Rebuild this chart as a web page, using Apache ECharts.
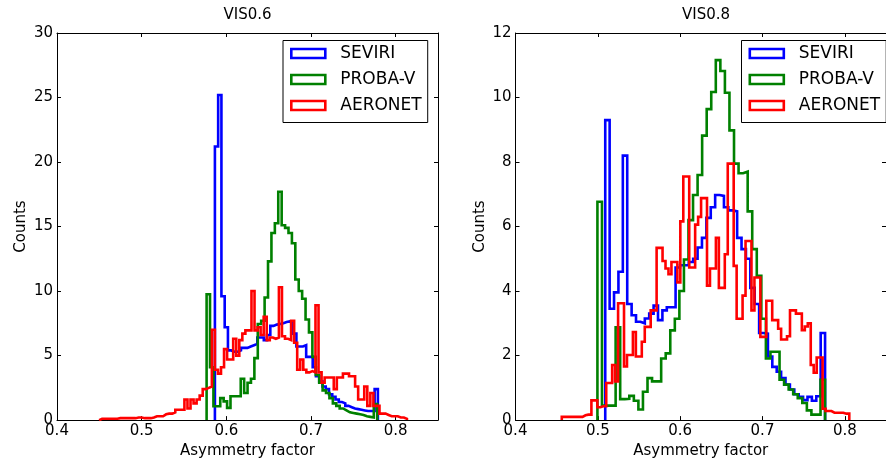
<!DOCTYPE html>
<html><head><meta charset="utf-8">
<script src="https://cdn.jsdelivr.net/npm/echarts@6/dist/echarts.min.js"></script>
<style>html,body{margin:0;padding:0;background:#fff}#c{width:886px;height:464px}</style>
</head><body><div id="c"></div>
<script>
// ---- data (histogram counts) ----
const seriesNames = ['SEVIRI', 'PROBA-V', 'AERONET'];
const panelTitles = ['VIS0.6', 'VIS0.8'];
const xTickValues = [0.4, 0.5, 0.6, 0.7, 0.8];

// VIS0.6 panel
const vis06_seviri_start = 0.5865, vis06_seviri_width = 0.00385;
const vis06_seviri = [21.2,25.2,9.6,7.2,5.4,5.3,5.3,5.4,5.6,5.6,5.7,5.8,5.9,6.4,6.4,6.2,6.6,7.3,7.4,7.45,7.5,7.6,7.65,7.6,6.7,5.7,5.7,5.8,4.9,4.9,4.1,3.4,3.0,2.6,2.4,2.0,1.8,1.6,1.4,1.3,1.1,1.0,0.9,0.85,0.8,0.75,0.7,0.7,0.7,2.4];
const vis06_proba_start = 0.5767, vis06_proba_width = 0.00403;
const vis06_proba = [9.75,4.1,1.07,1.07,1.7,1.45,0.95,1.85,1.85,1.85,3.2,2.1,2.9,3.2,4.8,7.45,7.7,9.5,12.3,14.5,15.25,17.7,15.1,14.9,14.5,13.7,10.9,10.0,9.4,7.8,6.8,4.9,3.5,2.9,2.3,2.1,1.7,1.3,1.1,0.9,0.75,0.6,0.55,0.5,0.45,0.4,0.3,0.25,0.2,1.25];
const vis06_aeronet_start = 0.4497, vis06_aeronet_width = 0.0036;
const vis06_aeronet = [0.1,0.1,0.1,0.1,0.1,0.1,0.15,0.15,0.15,0.15,0.15,0.15,0.2,0.2,0.15,0.15,0.15,0.2,0.3,0.3,0.3,0.45,0.5,0.5,0.6,0.8,0.8,0.8,1.6,0.9,1.6,1.3,1.6,1.9,2.4,2.5,2.6,7.0,3.9,3.6,4.1,5.5,4.7,4.7,6.3,5.0,6.2,6.7,6.95,6.95,10.0,6.95,7.2,6.6,8.0,6.2,6.4,6.3,6.4,10.3,6.5,6.3,6.2,7.7,6.0,3.9,4.7,3.9,3.7,3.8,3.7,8.9,3.7,2.9,3.3,3.3,3.3,2.4,3.3,3.3,3.6,3.6,3.4,3.4,2.6,1.6,1.6,2.6,1.1,2.1,1.1,1.1,0.5,0.5,0.4,0.3,0.3,0.3,0.2,0.2,0.1];

// VIS0.8 panel
const vis08_seviri_start = 0.5090, vis08_seviri_width = 0.00534;
const vis08_seviri = [9.3,3.45,3.96,4.6,8.2,3.6,3.25,3.05,3.0,3.15,3.3,3.55,3.1,3.4,3.5,3.5,4.73,4.8,4.8,4.9,5.0,5.35,5.65,6.27,6.6,6.98,6.95,6.6,6.5,6.47,5.65,5.3,5.0,4.1,3.6,2.7,2.68,1.97,1.65,1.5,1.3,1.1,0.95,0.8,0.72,0.62,0.72,0.6,0.74,2.7];
const vis08_proba_start = 0.4995, vis08_proba_width = 0.00553;
const vis08_proba = [6.77,0.45,0.45,0.45,2.88,0.65,0.66,0.75,0.6,0.33,0.88,1.3,1.2,1.2,1.91,2.07,2.78,3.14,4.0,4.98,6.2,6.98,7.6,8.82,9.64,10.17,11.16,10.82,10.15,8.98,7.95,7.65,7.7,6.47,5.3,4.47,3.14,1.91,2.12,2.12,1.25,1.1,0.95,0.8,0.68,0.53,0.3,0.17,0.17,1.25];
const vis08_aeronet_start = 0.4562, vis08_aeronet_width = 0.0036;
const vis08_aeronet = [0.1,0.1,0.1,0.1,0.1,0.1,0.1,0.15,0.17,0.17,0.61,0.61,0.4,0.43,0.43,1.15,1.15,1.71,1.2,3.62,3.62,1.66,2.02,2.02,2.73,1.97,1.97,2.43,2.89,2.89,3.4,3.4,5.34,5.34,4.93,4.7,4.52,4.9,4.9,4.27,6.16,7.55,7.55,4.73,4.73,6.06,6.3,6.88,6.88,4.17,4.7,4.7,5.65,4.1,4.1,5.14,7.95,7.95,4.78,3.14,3.14,3.86,5.55,5.55,3.4,4.42,4.42,2.58,2.58,3.7,3.7,3.1,3.1,2.83,2.5,2.5,2.6,3.4,3.4,3.3,3.3,2.79,2.9,3.0,1.71,1.47,1.94,1.94,0.35,0.28,0.28,0.23,0.23,0.23,0.23,0.2,0.2];

// ---- build ----
const COLORS = {'SEVIRI': '#0000ff', 'PROBA-V': '#008000', 'AERONET': '#ff0000'};
const FONT = 'DejaVu Sans';
const LW = 2.6;

function stepPoints(start, width, counts) {
  const pts = [[start, 0]];
  counts.forEach((c, i) => {
    pts.push([start + i * width, c], [start + (i + 1) * width, c]);
  });
  pts.push([start + counts.length * width, 0]);
  return pts;
}

const panels = [
  {title: panelTitles[0], ymax: 30, yint: 5, left: 57,
   sets: [[vis06_seviri_start, vis06_seviri_width, vis06_seviri],
          [vis06_proba_start, vis06_proba_width, vis06_proba],
          [vis06_aeronet_start, vis06_aeronet_width, vis06_aeronet]]},
  {title: panelTitles[1], ymax: 12, yint: 2, left: 515.5,
   sets: [[vis08_seviri_start, vis08_seviri_width, vis08_seviri],
          [vis08_proba_start, vis08_proba_width, vis08_proba],
          [vis08_aeronet_start, vis08_aeronet_width, vis08_aeronet]]}
];
const PW = 381, TOP = 33, PH = 391;

const grid = [], xAxis = [], yAxis = [], series = [], title = [], legend = [];
const axisBase = {
  axisLine: {show: true, onZero: false, lineStyle: {color: '#000', width: 1}},
  axisTick: {show: true, inside: true, length: 4, lineStyle: {color: '#000', width: 1}},
  splitLine: {show: false}
};
panels.forEach((p, gi) => {
  grid.push({left: p.left, top: TOP, width: PW, height: PH, containLabel: false});
  xAxis.push(Object.assign({}, axisBase, {
    gridIndex: gi, type: 'value', position: 'bottom', min: 0.4, max: 0.85, interval: 0.1,
    name: 'Asymmetry factor', nameLocation: 'middle', nameGap: 23,
    nameTextStyle: {fontFamily: FONT, fontSize: 15, color: '#000'},
    axisLabel: {show: true, margin: 4, showMaxLabel: false, fontFamily: FONT, fontSize: 15, color: '#000',
      formatter: v => xTickValues.some(t => Math.abs(t - v) < 1e-6) ? v.toFixed(1) : ''}
  }));
  xAxis.push(Object.assign({}, axisBase, {
    gridIndex: gi, type: 'value', position: 'top', min: 0.4, max: 0.85, interval: 0.1,
    axisLabel: {show: false}
  }));
  yAxis.push(Object.assign({}, axisBase, {
    gridIndex: gi, type: 'value', position: 'left', min: 0, max: p.ymax, interval: p.yint,
    name: 'Counts', nameLocation: 'middle', nameGap: 28,
    nameTextStyle: {fontFamily: FONT, fontSize: 15, color: '#000'},
    axisLabel: {show: true, margin: 4, fontFamily: FONT, fontSize: 15, color: '#000'}
  }));
  yAxis.push(Object.assign({}, axisBase, {
    gridIndex: gi, type: 'value', position: 'right', min: 0, max: p.ymax, interval: p.yint,
    axisLabel: {show: false}
  }));
  p.sets.forEach((s, si) => {
    const name = seriesNames[si];
    series.push({
      name: name, type: 'line', xAxisIndex: gi * 2, yAxisIndex: gi * 2,
      data: stepPoints(s[0], s[1], s[2]), showSymbol: false, symbol: 'none',
      lineStyle: {color: COLORS[name], width: LW, join: 'miter'},
      itemStyle: {color: COLORS[name]}, clip: true, silent: true
    });
  });
  title.push({text: p.title, left: p.left + PW / 2, top: 8, textAlign: 'center', padding: 0,
    textStyle: {fontFamily: FONT, fontSize: 15, fontWeight: 'normal', color: '#000'}});
  legend.push({
    orient: 'vertical', left: p.left + 226, top: 40.5,
    padding: [4, 6, 8, 7], itemGap: 8, itemWidth: 34, itemHeight: 9,
    backgroundColor: '#fff', borderColor: '#000', borderWidth: 1, borderRadius: 0,
    selectedMode: false,
    textStyle: {fontFamily: FONT, fontSize: 17, color: '#000', lineHeight: 18, padding: [0, 0, 0, 10]},
    data: seriesNames.map(n => ({name: n, icon: 'rect',
      itemStyle: {color: '#ffffff', borderColor: COLORS[n], borderWidth: LW}}))
  });
});

const chart = echarts.init(document.getElementById('c'), null, {renderer: 'canvas'});
chart.setOption({animation: false, backgroundColor: '#fff', title, legend, grid, xAxis, yAxis, series});
</script></body></html>
